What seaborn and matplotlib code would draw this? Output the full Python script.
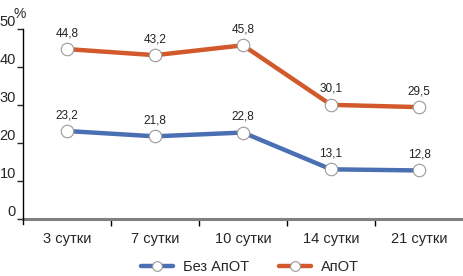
import pandas as pd
import seaborn as sns
import matplotlib.pyplot as plt

# data
days = ["3 сутки", "7 сутки", "10 сутки", "14 сутки", "21 сутки"]
no_apot = [23.2, 21.8, 22.8, 13.1, 12.8]
apot = [44.8, 43.2, 45.8, 30.1, 29.5]
series_names = ["Без АпОТ", "АпОТ"]
colors = ["#4a6fb3", "#d2592b"]

data = pd.DataFrame({
    "day": days * 2,
    "value": no_apot + apot,
    "group": [series_names[0]] * len(days) + [series_names[1]] * len(days),
})

sns.set_style("white")
plt.rcParams["font.family"] = ["Liberation Sans", "DejaVu Sans"]

fig = plt.figure(figsize=(4.64, 2.76), dpi=100)
ax = fig.add_axes([23 / 464, 57 / 276, 440 / 464, 190 / 276])

sns.lineplot(data=data, x="day", y="value", hue="group", palette=colors,
             hue_order=series_names, sort=False, ax=ax, linewidth=3.2,
             marker="o", markersize=9, markerfacecolor="white",
             markeredgecolor="#9a9a9a", markeredgewidth=0.8, legend=True)

# value labels
for vals in (no_apot, apot):
    for i, v in enumerate(vals):
        ax.text(i, v + 2.6, f"{v:.1f}".replace(".", ","), ha="center",
                va="bottom", fontsize=8.5, color="#222222")

ax.set_xlim(-0.5, len(days) - 0.5)
ax.set_ylim(0, 50.1)
ax.set_yticks([0, 10, 20, 30, 40, 50])
ax.set_xticks(range(len(days)))
ax.set_xticklabels(days)
ax.set_xticks([i + 0.5 for i in range(len(days) - 1)], minor=True)
ax.set_xlabel("")
ax.set_ylabel("")

for s in ["top", "right"]:
    ax.spines[s].set_visible(False)
ax.spines["left"].set_color("black")
ax.spines["left"].set_linewidth(1.0)
ax.spines["left"].set_bounds(-1.4, 50.1)
ax.spines["bottom"].set_color("#808080")
ax.spines["bottom"].set_linewidth(2.2)
ax.spines["bottom"].set_zorder(1)

ax.tick_params(axis="y", length=4, width=1, direction="out", labelsize=10.5,
               pad=1, left=True)
ax.tick_params(axis="x", which="major", length=0, labelsize=10.5, pad=9)
ax.tick_params(axis="x", which="minor", length=5, width=1, direction="out",
               bottom=True, color="black")
for lbl in ax.get_yticklabels():
    lbl.set_verticalalignment("bottom")

fig.text(20 / 464, 1 - 14 / 276, "%", fontsize=10, ha="center", va="center")

handles, labels = ax.get_legend_handles_labels()
for h in handles:
    h.set_markersize(7)
ax.legend(handles, labels, loc="center", bbox_to_anchor=(0.516, -0.255),
          bbox_transform=ax.transAxes, ncol=2, frameon=False, fontsize=10.5,
          handlelength=2.2, handletextpad=0.7, columnspacing=2.0)

fig.savefig("out.png", dpi=100)
